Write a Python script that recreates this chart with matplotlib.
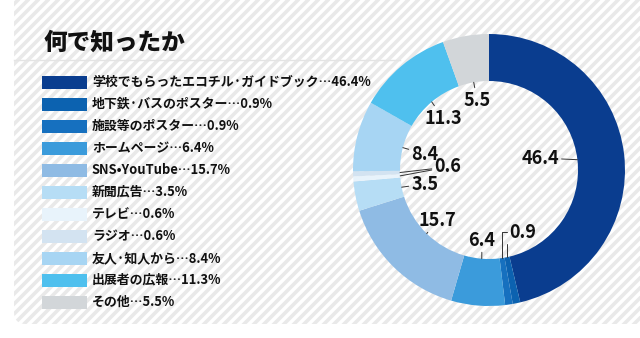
import numpy as np
import matplotlib.pyplot as plt
from matplotlib.patches import FancyBboxPatch, Rectangle

plt.rcParams['font.family'] = ['Noto Sans CJK JP', 'DejaVu Sans']

labels = ['学校でもらったエコチル·ガイドブック', '地下鉄·バスのポスター', '施設等のポスター',
          'ホームページ', 'SNS•YouTube', '新聞広告', 'テレビ', 'ラジオ',
          '友人·知人から', '出展者の広報', 'その他']
values = [46.4, 0.9, 0.9, 6.4, 15.7, 3.5, 0.6, 0.6, 8.4, 11.3, 5.5]
colors = ['#0a3d8f', '#0c62b0', '#1670bf', '#3b9bdb', '#8fbbe4', '#b6ddf5',
          '#e8f3fb', '#d3e3f1', '#a7d5f3', '#4fc0ee', '#d2d6d9']

# where each value label sits inside the ring (px from the centre, y up)
label_pos = [(51, 12), (34, -62), (34, -62), (-7, -70), (-52, -50), (-64, -14),
             (-41, 3), (-41, 3), (-64, 16), (-46, 52), (-12, 70)]
label_show = [True, True, False, True, True, True, True, False, True, True, True]

W, H = 640, 338
fig = plt.figure(figsize=(W / 100, H / 100), dpi=100)
fig.patch.set_facecolor('white')

# striped backdrop
bg = fig.add_axes([0, 0, 1, 1])
bg.set_xlim(0, W)
bg.set_ylim(H, 0)
bg.axis('off')
panel = FancyBboxPatch((14, -20), 700, 344, boxstyle='round,pad=0,rounding_size=12',
                       fc='white', ec='none', zorder=0)
bg.add_patch(panel)
for c in np.arange(-400, 1100, 10):
    ln, = bg.plot([c, c + 400], [H + 20, H + 20 - 400], color='#e9e9e9', lw=2.6,
                  solid_capstyle='butt', zorder=0.5)
    ln.set_clip_path(panel)

# title and rule
bg.text(44, 43, '何で知ったか', fontsize=17, fontweight='heavy', va='center', ha='left',
        color='#111111', zorder=3)
bg.plot([14, 400], [60, 60], color='#e4e4e4', lw=1, zorder=1)

# legend
for i, (lab, v, col) in enumerate(zip(labels, values, colors)):
    y = 82 + i * 22
    bg.add_patch(Rectangle((42, y - 6.5), 45, 13, fc=col, ec='none', zorder=2))
    bg.text(92, y, f'{lab}…{v}%', fontsize=9.3, fontweight='bold', va='center',
            ha='left', color='#111111', zorder=3)

# donut
cx, cy, R, r_in = 489, 170, 136, 89
ax = fig.add_axes([(cx - 150) / W, (H - cy - 150) / H, 300 / W, 300 / H])
wedges, _ = ax.pie(values, colors=colors, radius=R, startangle=90, counterclock=False,
                   wedgeprops=dict(width=R - r_in, edgecolor='none'))
ax.set_xlim(-150, 150)
ax.set_ylim(-150, 150)
ax.axis('off')

for w, v, pos, show in zip(wedges, values, label_pos, label_show):
    ang = np.deg2rad((w.theta1 + w.theta2) / 2)
    xy = (r_in * np.cos(ang), r_in * np.sin(ang))
    conn = 'arc3'
    if v == 0.9:
        conn = 'angle,angleA=180,angleB=90,rad=0'
    ax.annotate(f'{v}', xy=xy, xytext=pos, ha='center', va='center', fontsize=13,
                fontweight='bold', color='#111111' if show else 'none',
                arrowprops=dict(arrowstyle='-', color='#333333', lw=0.7,
                                shrinkA=0, shrinkB=0, connectionstyle=conn))

fig.savefig('out.png', dpi=100)
